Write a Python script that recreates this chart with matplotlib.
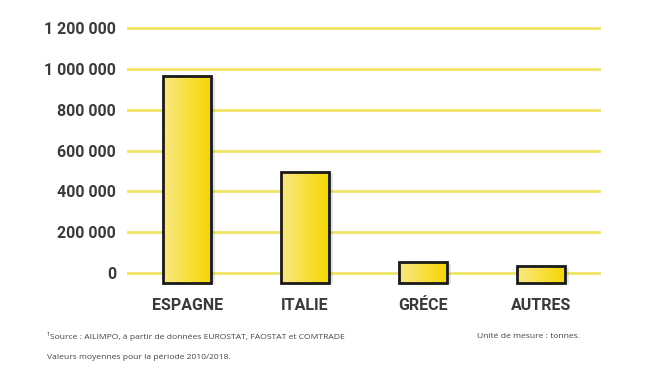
import numpy as np
import matplotlib.pyplot as plt
from matplotlib.colors import LinearSegmentedColormap

# data (tonnes)
pays = ["ESPAGNE", "ITALIE", "GRÉCE", "AUTRES"]
volumes = [965000, 495000, 52000, 32000]
yticks = [0, 200000, 400000, 600000, 800000, 1000000, 1200000]
ytick_labels = ["0", "200 000", "400 000", "600 000", "800 000", "1 000 000", "1 200 000"]

cond = ["Roboto", "DejaVu Sans"]
txt = ["Open Sans", "DejaVu Sans"]

fig = plt.figure(figsize=(6.5, 3.67), dpi=100)
ax = fig.add_axes([0.1954, 0.2229, 0.7292, 0.7281])

x = np.arange(len(pays))
bw = 0.41
base = -49000  # bars are drawn a bit below the zero line in the original

for yv in yticks:
    ax.axhline(yv, color="#EFE566", lw=2, zorder=1)

cmap = LinearSegmentedColormap.from_list("jaune", ["#F8E888", "#F8E040", "#F5D500"])
grad = np.linspace(0, 1, 64).reshape(1, -1)

bars = ax.bar(x, np.array(volumes) - base, bottom=base, width=bw,
              facecolor="none", edgecolor="#1a1a1a", linewidth=2, zorder=4)
for b in bars:
    x0, y0 = b.get_x(), b.get_y()
    w, h = b.get_width(), b.get_height()
    # soft shadow on the right side
    ax.bar(x0 + w / 2 + 0.03, h, bottom=y0 - 6000, width=w, color="#000000",
           alpha=0.10, linewidth=0, zorder=2)
    im = ax.imshow(grad, extent=[x0, x0 + w, y0, y0 + h], aspect="auto",
                   cmap=cmap, zorder=3, interpolation="bicubic")
    im.set_clip_path(b)

ax.set_xlim(-0.51, 3.51)
ax.set_ylim(-60000, 1250000)
for s in ax.spines.values():
    s.set_visible(False)
ax.set_yticks(yticks)
ax.set_yticklabels(ytick_labels, family=cond, fontweight="bold", fontsize=11.5, color="#3a3a3a")
ax.set_xticks(x)
ax.set_xticklabels(pays, family=cond, fontweight="bold", fontsize=11.5, color="#3a3a3a")
ax.tick_params(axis="y", length=0, pad=8)
ax.tick_params(axis="x", length=0, pad=9)

fig.text(0.072, 0.082, "¹Source : AILIMPO, à partir de données EUROSTAT, FAOSTAT et COMTRADE",
         family=txt, fontsize=6.1, color="#444444", va="center")
fig.text(0.734, 0.082, "Unité de mesure : tonnes.", family=txt, fontsize=6.1,
         color="#444444", va="center")
fig.text(0.072, 0.027, "Valeurs moyennes pour la période 2010/2018.", family=txt,
         fontsize=6.1, color="#444444", va="center")

fig.savefig("out.png", dpi=100)
